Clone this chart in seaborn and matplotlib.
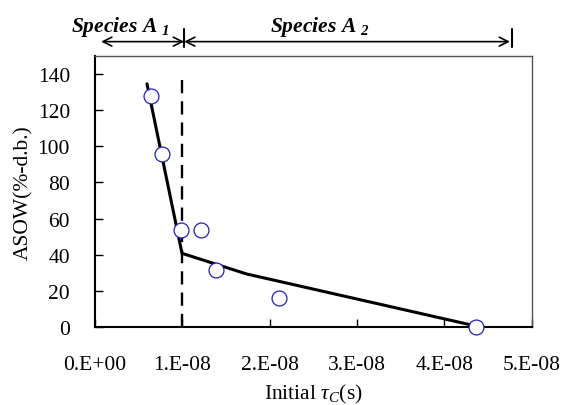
import matplotlib
matplotlib.use("Agg")
from matplotlib import pyplot as plt
from matplotlib import transforms as mtransforms
import pandas as pd
import seaborn as sns

# measured points (open circles)
tau_pts = [0.637e-8, 0.766e-8, 0.988e-8, 1.213e-8, 1.381e-8, 2.107e-8, 4.356e-8]
asow_pts = [127.6, 95.5, 53.9, 53.9, 31.4, 16.2, 0.2]

# fitted line
tau_fit = [0.595e-8, 0.996e-8, 1.733e-8, 4.356e-8]
asow_fit = [134.6, 40.8, 29.4, 0.6]

x_ticks = [0, 1e-8, 2e-8, 3e-8, 4e-8, 5e-8]
x_tick_labels = ["0.E+00", "1.E-08", "2.E-08", "3.E-08", "4.E-08", "5.E-08"]
y_ticks = [0, 20, 40, 60, 80, 100, 120, 140]

boundary_tau = 1.0e-8
boundary_top = 138

sns.set_style("ticks")
plt.rcParams["font.family"] = ["Liberation Serif", "DejaVu Serif"]
plt.rcParams["mathtext.fontset"] = "custom"
plt.rcParams["mathtext.rm"] = "Liberation Serif"
plt.rcParams["mathtext.it"] = "Liberation Serif:italic"
plt.rcParams["mathtext.bf"] = "Liberation Serif:bold:italic"
for key in ["text.color", "axes.labelcolor", "xtick.color", "ytick.color"]:
    plt.rcParams[key] = "black"

df_pts = pd.DataFrame({"tau": tau_pts, "asow": asow_pts})
df_fit = pd.DataFrame({"tau": tau_fit, "asow": asow_fit})

fig = plt.figure(figsize=(5.63, 4.06), dpi=100)
ax = fig.add_axes([0.1687, 0.192, 0.776, 0.6676])

sns.lineplot(data=df_fit, x="tau", y="asow", ax=ax, color="black", lw=2.2,
             sort=False, estimator=None)
ax.plot([boundary_tau, boundary_tau], [0, boundary_top], color="black", lw=1.7,
        dashes=(5.6, 3.4))
sns.scatterplot(data=df_pts, x="tau", y="asow", ax=ax, s=115, marker="o",
                facecolor="white", edgecolor="#2020b8", linewidth=0.9,
                clip_on=False, zorder=5)

ax.set_xlim(0, 5e-8)
ax.set_ylim(0, 150)
ax.set_xticks(x_ticks)
ax.set_xticklabels(x_tick_labels)
ax.set_yticks(y_ticks)
ax.tick_params(direction="in", length=6, width=1, labelsize=15.5,
               colors="black")
ax.tick_params(axis="x", pad=20)
ax.tick_params(axis="y", pad=18)

for side in ["left", "bottom"]:
    ax.spines[side].set_color("black")
    ax.spines[side].set_linewidth(1.5)
for side in ["top", "right"]:
    ax.spines[side].set_color("#555555")
    ax.spines[side].set_linewidth(1.0)

ax.set_xlabel(r"Initial $\tau_C$(s)", fontsize=15.5, labelpad=6)
ax.set_ylabel("ASOW(%-d.b.)", fontsize=15.5, labelpad=3)

# species ranges above the plot
trans = mtransforms.blended_transform_factory(ax.transData, ax.transAxes)
arrow_kw = dict(arrowstyle="<->", lw=1.2, color="black", mutation_scale=16,
                shrinkA=0, shrinkB=0)
ax.annotate("", xy=(0.07e-8, 1.053), xytext=(1.02e-8, 1.053),
            xycoords=trans, textcoords=trans, arrowprops=arrow_kw,
            annotation_clip=False)
ax.annotate("", xy=(1.02e-8, 1.053), xytext=(4.75e-8, 1.053),
            xycoords=trans, textcoords=trans, arrowprops=arrow_kw,
            annotation_clip=False)
for xv in [1.02e-8, 4.77e-8]:
    ax.plot([xv, xv], [1.033, 1.1], color="black", lw=1.5, transform=trans,
            clip_on=False)

ax.text(0.29e-8, 1.112, r"Species A $_\mathbf{1}$", transform=trans,
        ha="center", va="center", fontsize=15.5, fontstyle="italic",
        fontweight="bold")
ax.text(2.58e-8, 1.112, r"Species A $_\mathbf{2}$", transform=trans,
        ha="center", va="center", fontsize=15.5, fontstyle="italic",
        fontweight="bold")

fig.savefig("out.png", dpi=100)
